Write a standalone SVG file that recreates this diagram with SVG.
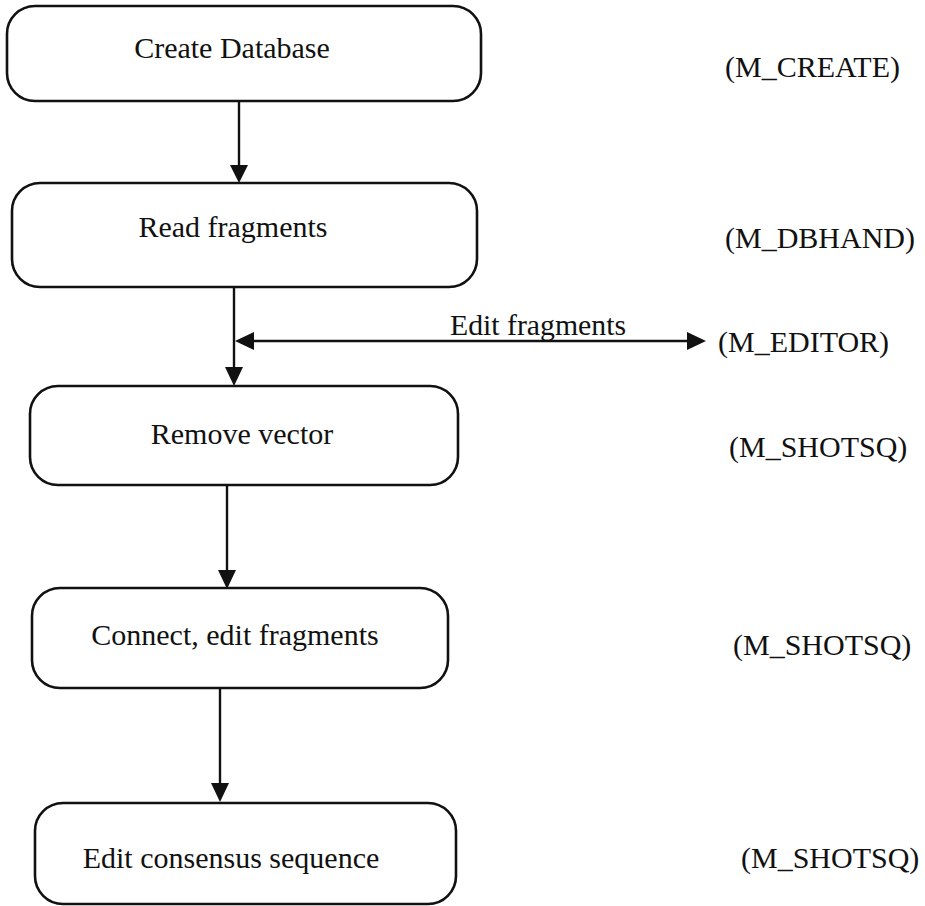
<svg xmlns="http://www.w3.org/2000/svg" width="925" height="906" viewBox="0 0 925 906">
<defs>
<style>
.box{fill:#fff;stroke:#111;stroke-width:2.6}
.t{font-family:"Liberation Serif","Times New Roman",serif;font-size:30px;fill:#111;text-anchor:middle}
.lbl{font-family:"Liberation Serif","Times New Roman",serif;font-size:30px;fill:#111}
.c{stroke:#111;stroke-width:2.4;fill:none}
.ah{fill:#111}
</style>
</defs>
<rect width="925" height="906" fill="#fff"/>
<g id="connectors">
<line class="c" x1="239" y1="101" x2="239" y2="165"/>
<path class="ah" d="M230,165 L248,165 L239,183 Z"/>
<line class="c" x1="234" y1="287" x2="234" y2="367"/>
<path class="ah" d="M225,367 L243,367 L234,386 Z"/>
<line class="c" x1="253" y1="341" x2="688" y2="341"/>
<path class="ah" d="M254,332 L254,350 L235,341 Z"/>
<path class="ah" d="M687,332 L687,350 L706,341 Z"/>
<line class="c" x1="227" y1="485" x2="227" y2="570"/>
<path class="ah" d="M218,570 L236,570 L227,589 Z"/>
<line class="c" x1="220" y1="688" x2="220" y2="783"/>
<path class="ah" d="M211,783 L229,783 L220,802 Z"/>
<text class="lbl" x="450" y="335" textLength="176" lengthAdjust="spacingAndGlyphs">Edit fragments</text>
</g>
<g id="n1">
<rect class="box" x="7" y="6" width="474" height="95" rx="28"/>
<text class="t" x="232" y="58" font-size="28">Create Database</text>
</g>
<g id="n2">
<rect class="box" x="12" y="183" width="465" height="104" rx="28"/>
<text class="t" x="233" y="237">Read fragments</text>
</g>
<g id="n3">
<rect class="box" x="30" y="386" width="428" height="99" rx="28"/>
<text class="t" x="242" y="444">Remove vector</text>
</g>
<g id="n4">
<rect class="box" x="32" y="588" width="416" height="100" rx="28"/>
<text class="t" x="235" y="645">Connect, edit fragments</text>
</g>
<g id="n5">
<rect class="box" x="35" y="803" width="421" height="101" rx="28"/>
<text class="t" x="231" y="868">Edit consensus sequence</text>
</g>
<g id="labels">
<text class="lbl" x="725" y="77">(M_CREATE)</text>
<text class="lbl" x="725" y="248">(M_DBHAND)</text>
<text class="lbl" x="718" y="352">(M_EDITOR)</text>
<text class="lbl" x="729" y="457">(M_SHOTSQ)</text>
<text class="lbl" x="733" y="655">(M_SHOTSQ)</text>
<text class="lbl" x="741" y="868">(M_SHOTSQ)</text>
</g>
</svg>
